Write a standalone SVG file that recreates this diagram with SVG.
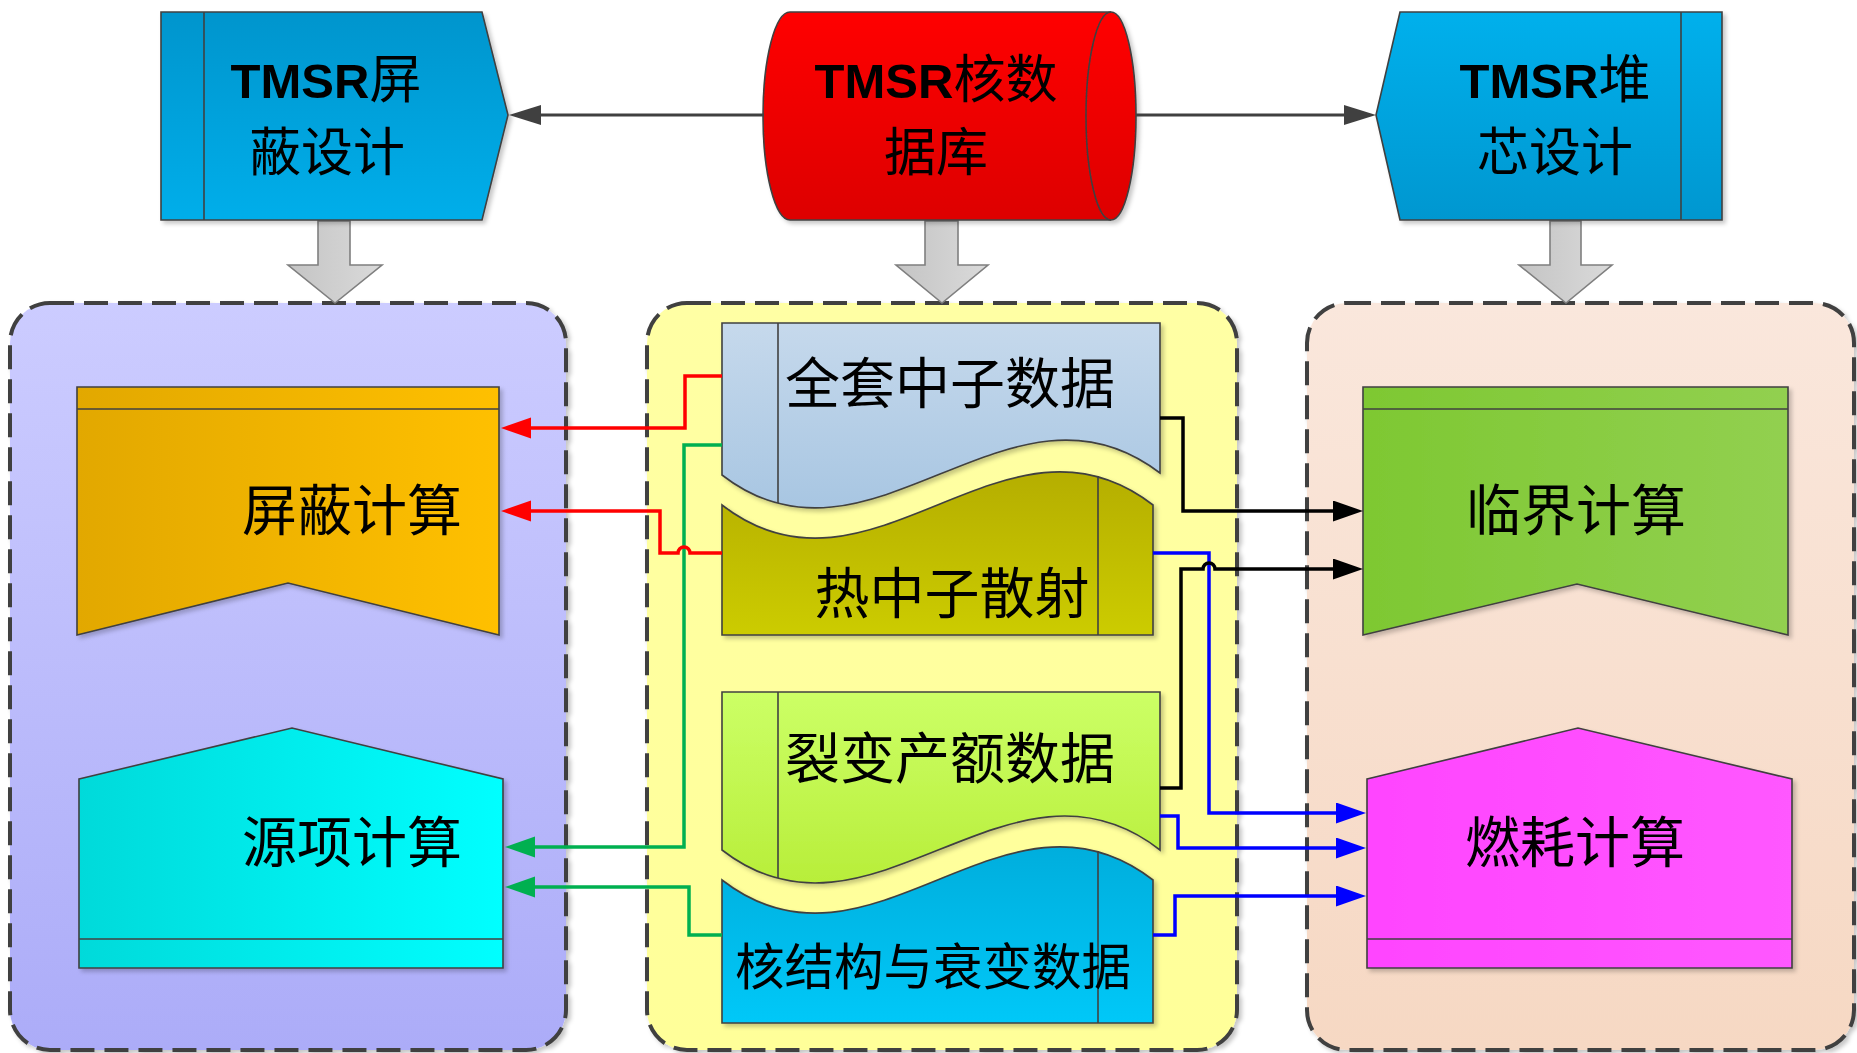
<svg xmlns="http://www.w3.org/2000/svg" width="1857" height="1053" viewBox="0 0 1857 1053">
<style>
.nd{stroke:#404040;stroke-width:1.6}
.ln{fill:none;stroke:#404040;stroke-width:1.6}
.cont{stroke:#404040;stroke-width:4;stroke-dasharray:24 10}
.blk{stroke:#7f7f7f;stroke-width:1.6}
.t{font-family:"Noto Sans CJK SC","Noto Sans",sans-serif;fill:#000;text-anchor:middle}
.tt{font-size:52px}
.tm{font-size:55px}
.b{font-family:"Liberation Sans",Arial,sans-serif;font-weight:bold;font-size:49px}
.c{fill:none;stroke-width:3.5;stroke-linejoin:miter}
.red{stroke:#ff0000;marker-end:url(#mRed)}
.grn{stroke:#00b050;marker-end:url(#mGrn)}
.blkc{stroke:#000000;marker-end:url(#mBlk)}
.blu{stroke:#0000ff;marker-end:url(#mBlu)}
.gry{fill:none;stroke:#404040;stroke-width:3;marker-end:url(#mGry)}
</style>
<defs>
<filter id="sh" x="-5%" y="-5%" width="115%" height="115%"><feDropShadow dx="3" dy="3" stdDeviation="2" flood-color="#000" flood-opacity="0.22"/></filter>
<linearGradient id="gTopL" x1="0" y1="0" x2="0" y2="1"><stop offset="0" stop-color="#0095cd"/><stop offset="1" stop-color="#00aeea"/></linearGradient>
<linearGradient id="gTopR" x1="0" y1="0" x2="0" y2="1"><stop offset="0" stop-color="#00b0ec"/><stop offset="1" stop-color="#0097d0"/></linearGradient>
<linearGradient id="gRed" x1="0" y1="0" x2="0" y2="1"><stop offset="0" stop-color="#ff0000"/><stop offset="1" stop-color="#dd0000"/></linearGradient>
<linearGradient id="gArr" x1="0" y1="0" x2="1" y2="0"><stop offset="0" stop-color="#c4c4c4"/><stop offset="1" stop-color="#dadada"/></linearGradient>
<linearGradient id="gCL" x1="0" y1="0" x2="0" y2="1"><stop offset="0" stop-color="#ccccff"/><stop offset="1" stop-color="#acacf8"/></linearGradient>
<linearGradient id="gCM" x1="0" y1="0" x2="0" y2="1"><stop offset="0" stop-color="#ffffa4"/><stop offset="1" stop-color="#ffff99"/></linearGradient>
<linearGradient id="gCR" x1="0" y1="0" x2="0" y2="1"><stop offset="0" stop-color="#fae7dc"/><stop offset="1" stop-color="#f6d8c3"/></linearGradient>
<linearGradient id="gOr" x1="0" y1="0" x2="1" y2="0"><stop offset="0" stop-color="#e2a800"/><stop offset="1" stop-color="#ffc000"/></linearGradient>
<linearGradient id="gCy" x1="0" y1="0" x2="1" y2="0"><stop offset="0" stop-color="#00dada"/><stop offset="1" stop-color="#00ffff"/></linearGradient>
<linearGradient id="gGr" x1="0" y1="0" x2="1" y2="0"><stop offset="0" stop-color="#7ec832"/><stop offset="1" stop-color="#92d050"/></linearGradient>
<linearGradient id="gMg" x1="0" y1="0" x2="1" y2="0"><stop offset="0" stop-color="#ff44ff"/><stop offset="1" stop-color="#ff58ff"/></linearGradient>
<linearGradient id="gD1" x1="0" y1="0" x2="0" y2="1"><stop offset="0" stop-color="#c6d9ec"/><stop offset="1" stop-color="#a8c6e2"/></linearGradient>
<linearGradient id="gOl" x1="0" y1="0" x2="0" y2="1"><stop offset="0" stop-color="#b5ae00"/><stop offset="1" stop-color="#cccc00"/></linearGradient>
<linearGradient id="gLm" x1="0" y1="0" x2="0" y2="1"><stop offset="0" stop-color="#ccff66"/><stop offset="1" stop-color="#b8ee3a"/></linearGradient>
<linearGradient id="gBd" x1="0" y1="0" x2="0" y2="1"><stop offset="0" stop-color="#00aedd"/><stop offset="1" stop-color="#00c8f8"/></linearGradient>
<marker id="mRed" markerUnits="userSpaceOnUse" markerWidth="32" markerHeight="22" refX="22" refY="10.5" orient="auto"><path d="M0,0 L30,10.5 L0,21 Z" fill="#ff0000"/></marker>
<marker id="mGrn" markerUnits="userSpaceOnUse" markerWidth="32" markerHeight="22" refX="22" refY="10.5" orient="auto"><path d="M0,0 L30,10.5 L0,21 Z" fill="#00b050"/></marker>
<marker id="mBlk" markerUnits="userSpaceOnUse" markerWidth="32" markerHeight="22" refX="22" refY="10.5" orient="auto"><path d="M0,0 L30,10.5 L0,21 Z" fill="#000000"/></marker>
<marker id="mBlu" markerUnits="userSpaceOnUse" markerWidth="32" markerHeight="22" refX="22" refY="10.5" orient="auto"><path d="M0,0 L30,10.5 L0,21 Z" fill="#0000ff"/></marker>
<marker id="mGry" markerUnits="userSpaceOnUse" markerWidth="34" markerHeight="22" refX="24" refY="10" orient="auto"><path d="M0,0 L32,10 L0,20 Z" fill="#404040"/></marker>
</defs>

<g id="containers">
<rect id="grp-left" class="cont" x="10" y="303" width="556" height="747" rx="40" fill="url(#gCL)" filter="url(#sh)"/>
<rect id="grp-mid" class="cont" x="647" y="303" width="590" height="747" rx="40" fill="url(#gCM)" filter="url(#sh)"/>
<rect id="grp-right" class="cont" x="1307" y="303" width="547" height="747" rx="40" fill="url(#gCR)" filter="url(#sh)"/>
</g>

<g id="block-arrows">
<polygon class="blk" fill="url(#gArr)" points="318,221 350,221 350,265 382,265 335,303 288,265 318,265"/>
<polygon class="blk" fill="url(#gArr)" points="925,221 958,221 958,265 988,265 942,303 896,265 925,265"/>
<polygon class="blk" fill="url(#gArr)" points="1550,221 1581,221 1581,265 1612,265 1566,303 1519,265 1550,265"/>
</g>

<g id="node-shield-design" filter="url(#sh)">
<polygon class="nd" fill="url(#gTopL)" points="161,12 482,12 508,115 482,220 161,220"/>
<line class="ln" x1="204" y1="12" x2="204" y2="220"/>
<text class="t tt" x="326" y="98"><tspan class="b">TMSR</tspan>屏</text>
<text class="t tt" x="327" y="171">蔽设计</text>
</g>

<g id="node-database" filter="url(#sh)">
<path class="nd" fill="url(#gRed)" d="M790,12 L1111,12 A25,104 0 0 1 1111,220 L790,220 A27,104 0 0 1 790,12 Z"/>
<path class="ln" d="M1111,12 A25,104 0 0 0 1111,220"/>
<text class="t tt" x="936" y="98"><tspan class="b">TMSR</tspan>核数</text>
<text class="t tt" x="936" y="171">据库</text>
</g>

<g id="node-core-design" filter="url(#sh)">
<polygon class="nd" fill="url(#gTopR)" points="1400,12 1722,12 1722,220 1400,220 1376,115"/>
<line class="ln" x1="1681" y1="12" x2="1681" y2="220"/>
<text class="t tt" x="1555" y="98"><tspan class="b">TMSR</tspan>堆</text>
<text class="t tt" x="1555" y="171">芯设计</text>
</g>

<g id="node-shield-calc" filter="url(#sh)">
<polygon class="nd" fill="url(#gOr)" points="77,387 499,387 499,635 288,583 77,635"/>
<line class="ln" x1="77" y1="409" x2="499" y2="409"/>
<text class="t tm" x="352" y="530">屏蔽计算</text>
</g>

<g id="node-source-calc" filter="url(#sh)">
<polygon class="nd" fill="url(#gCy)" points="79,779 292,728 503,779 503,968 79,968"/>
<line class="ln" x1="79" y1="939" x2="503" y2="939"/>
<text class="t tm" x="352" y="862">源项计算</text>
</g>

<g id="node-full-neutron" filter="url(#sh)">
<path class="nd" fill="url(#gD1)" d="M722,323 L1160,323 L1160,473 C1010,358 870,590 722,475 Z"/>
<line class="ln" x1="778" y1="323" x2="778" y2="503"/>
<text class="t tm" x="950" y="403">全套中子数据</text>
</g>

<g id="node-thermal" filter="url(#sh)">
<path class="nd" fill="url(#gOl)" d="M722,505 C870,620 1005,390 1153,505 L1153,635 L722,635 Z"/>
<line class="ln" x1="1098" y1="476" x2="1098" y2="635"/>
<text class="t tm" x="952" y="613">热中子散射</text>
</g>

<g id="node-fission-yield" filter="url(#sh)">
<path class="nd" fill="url(#gLm)" d="M722,692 L1160,692 L1160,850 C1010,733 870,965 722,850 Z"/>
<line class="ln" x1="778" y1="692" x2="778" y2="878"/>
<text class="t tm" x="950" y="778">裂变产额数据</text>
</g>

<g id="node-decay" filter="url(#sh)">
<path class="nd" fill="url(#gBd)" d="M722,880 C870,995 1005,765 1153,880 L1153,1023 L722,1023 Z"/>
<line class="ln" x1="1098" y1="851" x2="1098" y2="1023"/>
<text class="t" x="933" y="985" style="font-size:49.5px">核结构与衰变数据</text>
</g>

<g id="node-critical-calc" filter="url(#sh)">
<polygon class="nd" fill="url(#gGr)" points="1363,387 1788,387 1788,635 1577,584 1363,635"/>
<line class="ln" x1="1363" y1="409" x2="1788" y2="409"/>
<text class="t tm" x="1576" y="530">临界计算</text>
</g>

<g id="node-burnup-calc" filter="url(#sh)">
<polygon class="nd" fill="url(#gMg)" points="1367,779 1578,728 1792,779 1792,968 1367,968"/>
<line class="ln" x1="1367" y1="939" x2="1792" y2="939"/>
<text class="t tm" x="1575" y="862">燃耗计算</text>
</g>

<g id="connectors">
<path class="gry" d="M764,115 H517"/>
<path class="gry" d="M1136,115 H1368"/>
<path class="c red" d="M722,376 H685 V428 H509"/>
<path class="c grn" d="M722,445 H684 V847 H513"/>
<path class="c red" d="M722,553 H690 A6,6 0 0 0 678,553 H660 V511 H509"/>
<path class="c grn" d="M722,935 H689 V887 H513"/>
<path class="c blkc" d="M1160,418 H1183 V511 H1355"/>
<path class="c blu" d="M1153,553 H1209 V813 H1358"/>
<path class="c blkc" d="M1160,788 H1181 V569 H1203 A6,6 0 0 1 1215,569 H1355"/>
<path class="c blu" d="M1160,816 H1178 V848 H1358"/>
<path class="c blu" d="M1153,935 H1175 V896 H1358"/>
</g>
</svg>
